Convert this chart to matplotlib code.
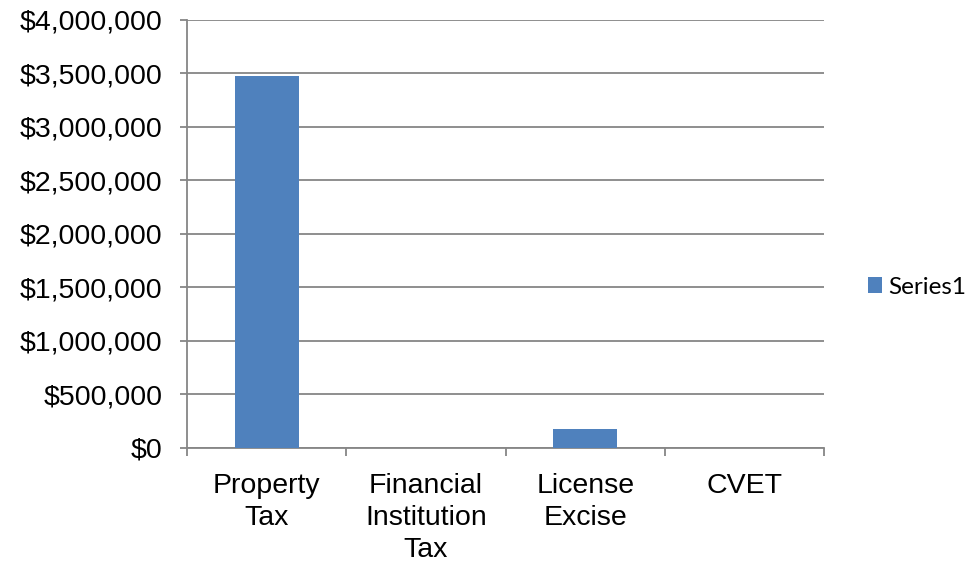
import matplotlib.pyplot as plt
from matplotlib.ticker import FuncFormatter, FixedLocator

categories = ["Property\nTax", "Financial\nInstitution\nTax", "License\nExcise", "CVET"]
values = [3475000, 0, 175000, 0]
series_name = "Series1"

bar_color = "#4F81BD"
axis_color = "#868686"

plt.rcParams["font.family"] = ["Liberation Sans", "DejaVu Sans"]

fig = plt.figure(figsize=(9.8, 5.64), dpi=100)
ax = fig.add_axes([0.191, 0.2057, 0.650, 0.7597])

x = range(len(categories))
bars = ax.bar(x, values, width=0.4, color=bar_color, label=series_name, zorder=3)

ax.set_xlim(-0.5, len(categories) - 0.5)
ax.set_ylim(0, 4000000)
ax.set_yticks(range(0, 4000001, 500000))
ax.yaxis.set_major_formatter(FuncFormatter(lambda v, _: f"${v:,.0f}"))
ax.grid(axis="y", color=axis_color, linewidth=1.3, zorder=0)

ax.set_xticks(list(x))
ax.set_xticklabels(categories, fontsize=20.5, linespacing=1.3)
ax.xaxis.set_minor_locator(FixedLocator([i - 0.5 for i in range(len(categories) + 1)]))
ax.tick_params(axis="x", which="major", length=0, pad=18)
ax.tick_params(axis="x", which="minor", length=6, width=1.3, color=axis_color)
ax.tick_params(axis="y", labelsize=20.5, length=5, width=1.3, color=axis_color, pad=13)

for side in ("top", "right"):
    ax.spines[side].set_visible(False)
for side in ("left", "bottom"):
    ax.spines[side].set_color(axis_color)
    ax.spines[side].set_linewidth(1.3)

fig.legend(
    handles=[bars],
    labels=[series_name],
    loc="center left",
    bbox_to_anchor=(0.8857, 0.491),
    frameon=False,
    borderpad=0,
    borderaxespad=0,
    handlelength=0.58,
    handleheight=0.58,
    handletextpad=0.25,
    prop={"family": ["Lato", "DejaVu Sans"], "size": 17.5},
)

fig.savefig("out.png", dpi=100)
